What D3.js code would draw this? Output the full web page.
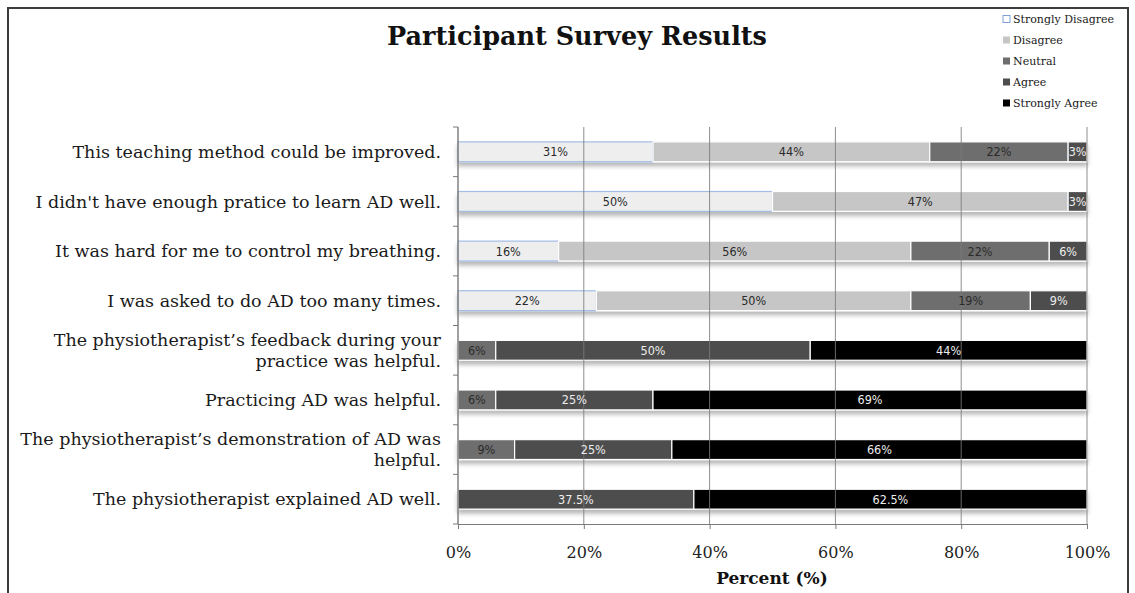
<!DOCTYPE html>
<html>
<head>
<meta charset="utf-8">
<script src="https://cdn.jsdelivr.net/npm/d3@7"></script>
<style>
  html, body { margin: 0; padding: 0; background: #fff; }
  svg { display: block; }
</style>
</head>
<body>
<svg id="chart" width="1135" height="593"></svg>
<script>
// Survey statements, top to bottom
const categories = [
  "This teaching method could be improved.",
  "I didn't have enough pratice to learn AD well.",
  "It was hard for me to control my breathing.",
  "I was asked to do AD too many times.",
  "The physiotherapist\u2019s feedback during your practice was helpful.",
  "Practicing AD was helpful.",
  "The physiotherapist\u2019s demonstration of AD was helpful.",
  "The physiotherapist explained AD well."
];

const seriesNames = ["Strongly Disagree", "Disagree", "Neutral", "Agree", "Strongly Agree"];

// Percent of respondents per answer, one array per answer level
const stronglyDisagree = [31, 50, 16, 22, 0, 0, 0, 0];
const disagree         = [44, 47, 56, 50, 0, 0, 0, 0];
const neutral          = [22, 0, 22, 19, 6, 6, 9, 0];
const agree            = [3, 3, 6, 9, 50, 25, 25, 37.5];
const stronglyAgree    = [0, 0, 0, 0, 44, 69, 66, 62.5];

const xTicks = [0, 20, 40, 60, 80, 100];

const fills   = ["#eeeeee", "#c6c6c6", "#6e6e6e", "#4e4e4e", "#000000"];
const strokes = ["#a3bde6", "#ffffff", "#ffffff", "#ffffff", "#ffffff"];
const textCol = ["#2a2a2a", "#2a2a2a", "#2a2a2a", "#eeeeee", "#eeeeee"];

const table = categories.map((c, i) => ({
  category: c,
  "Strongly Disagree": stronglyDisagree[i],
  "Disagree": disagree[i],
  "Neutral": neutral[i],
  "Agree": agree[i],
  "Strongly Agree": stronglyAgree[i]
}));

const svg = d3.select("#chart");
const serif = "'DejaVu Serif', serif";

const margin = { left: 458, right: 48, top: 127, bottom: 69 };
const W = 1135, H = 593;

const x = d3.scaleLinear().domain([0, 100]).range([margin.left, W - margin.right]);
const y = d3.scaleBand().domain(categories)
  .range([margin.top, H - margin.bottom])
  .paddingInner(0.6).paddingOuter(0.3);

// drop shadow under bars
const defs = svg.append("defs");
const f = defs.append("filter").attr("id", "shadow")
  .attr("x", "-5%").attr("y", "-50%").attr("width", "110%").attr("height", "220%");
f.append("feDropShadow").attr("dx", 0).attr("dy", 4).attr("stdDeviation", 2.2)
  .attr("flood-color", "#000").attr("flood-opacity", 0.28);

// outer frame
svg.append("rect").attr("x", 8).attr("y", 8).attr("width", 1120).attr("height", 620)
  .attr("fill", "none").attr("stroke", "#3c3c3c").attr("stroke-width", 2);

// title
svg.append("text").attr("x", 577).attr("y", 45).attr("text-anchor", "middle")
  .attr("font-family", serif).attr("font-weight", "bold").attr("font-size", 25.5)
  .attr("fill", "#111").text("Participant Survey Results");

// stacked bars
const stack = d3.stack().keys(seriesNames)(table);

const rows = svg.append("g").selectAll("g.row").data(table).join("g")
  .attr("class", "row").attr("filter", "url(#shadow)");

stack.forEach((layer, si) => {
  layer.forEach((seg, ri) => {
    if (seg[1] - seg[0] <= 0) return;
    rows.filter((d, i) => i === ri).append("rect")
      .attr("x", x(seg[0]))
      .attr("y", y(categories[ri]))
      .attr("width", x(seg[1]) - x(seg[0]))
      .attr("height", y.bandwidth())
      .attr("fill", fills[si])
      .attr("stroke", strokes[si])
      .attr("stroke-width", 1.2);
  });
});

// vertical grid lines (drawn over the bars)
const yTop = y.range()[0], yBot = y.range()[1];
svg.append("g").selectAll("line").data(xTicks).join("line")
  .attr("x1", d => x(d)).attr("x2", d => x(d))
  .attr("y1", yTop).attr("y2", yBot)
  .attr("stroke", "#7a7a7a").attr("stroke-width", 1).attr("opacity", 0.85);

// value labels
const labels = svg.append("g");
stack.forEach((layer, si) => {
  layer.forEach((seg, ri) => {
    const v = seg[1] - seg[0];
    if (v <= 0) return;
    labels.append("text")
      .attr("x", (x(seg[0]) + x(seg[1])) / 2)
      .attr("y", y(categories[ri]) + y.bandwidth() / 2)
      .attr("dy", "0.36em")
      .attr("text-anchor", "middle")
      .attr("font-family", "'DejaVu Sans Condensed', 'DejaVu Sans', sans-serif")
      .attr("font-size", 12.5)
      .attr("fill", textCol[si])
      .text(v + "%");
  });
});

// x axis
const xAxis = svg.append("g").attr("transform", `translate(0,${yBot})`)
  .call(d3.axisBottom(x).tickValues(xTicks).tickFormat(d => d + "%").tickSize(5).tickPadding(18));
xAxis.select(".domain").attr("stroke", "#7a7a7a");
xAxis.selectAll(".tick line").attr("stroke", "#7a7a7a");
xAxis.selectAll(".tick text").attr("font-family", serif).attr("font-size", 16).attr("fill", "#222");

svg.append("text").attr("x", 772).attr("y", 584).attr("text-anchor", "middle")
  .attr("font-family", serif).attr("font-weight", "bold").attr("font-size", 17)
  .attr("fill", "#111").text("Percent (%)");

// y axis line with ticks on band boundaries
const gy = svg.append("g");
gy.append("line").attr("x1", x(0)).attr("x2", x(0)).attr("y1", yTop).attr("y2", yBot)
  .attr("stroke", "#7a7a7a");
const bounds = d3.range(categories.length + 1).map(k => yTop + k * y.step());
gy.selectAll("line.tk").data(bounds).join("line").attr("class", "tk")
  .attr("x1", x(0) - 5).attr("x2", x(0)).attr("y1", d => d).attr("y2", d => d)
  .attr("stroke", "#7a7a7a");

// category labels, wrapped and right aligned
const maxW = 432, lineH = 21;
const catG = svg.append("g");
categories.forEach(c => {
  const t = catG.append("text").attr("text-anchor", "end")
    .attr("font-family", serif).attr("font-size", 17.5).attr("fill", "#1a1a1a");
  const words = c.split(" ");
  let lines = [], cur = [];
  const probe = t.append("tspan");
  words.forEach(w => {
    const test = cur.concat(w).join(" ");
    probe.text(test);
    if (probe.node().getComputedTextLength() > maxW && cur.length) {
      lines.push(cur.join(" "));
      cur = [w];
    } else cur.push(w);
  });
  lines.push(cur.join(" "));
  probe.remove();
  const cy = y(c) + y.bandwidth() / 2;
  const start = cy - (lines.length - 1) * lineH / 2;
  lines.forEach((ln, i) => {
    t.append("tspan").attr("x", 441).attr("y", start + i * lineH).attr("dy", "0.35em").text(ln);
  });
});

// legend
const lg = svg.append("g");
seriesNames.forEach((s, i) => {
  const ly = 19 + i * 21;
  lg.append("rect").attr("x", 1003).attr("y", ly - 3.5).attr("width", 7).attr("height", 7)
    .attr("fill", i === 0 ? "#ffffff" : fills[i])
    .attr("stroke", i === 0 ? "#7f9fd4" : "none").attr("stroke-width", 1);
  lg.append("text").attr("x", 1013).attr("y", ly).attr("dy", "0.35em")
    .attr("font-family", serif).attr("font-size", 11).attr("fill", "#1a1a1a").text(s);
});
</script>
</body>
</html>
